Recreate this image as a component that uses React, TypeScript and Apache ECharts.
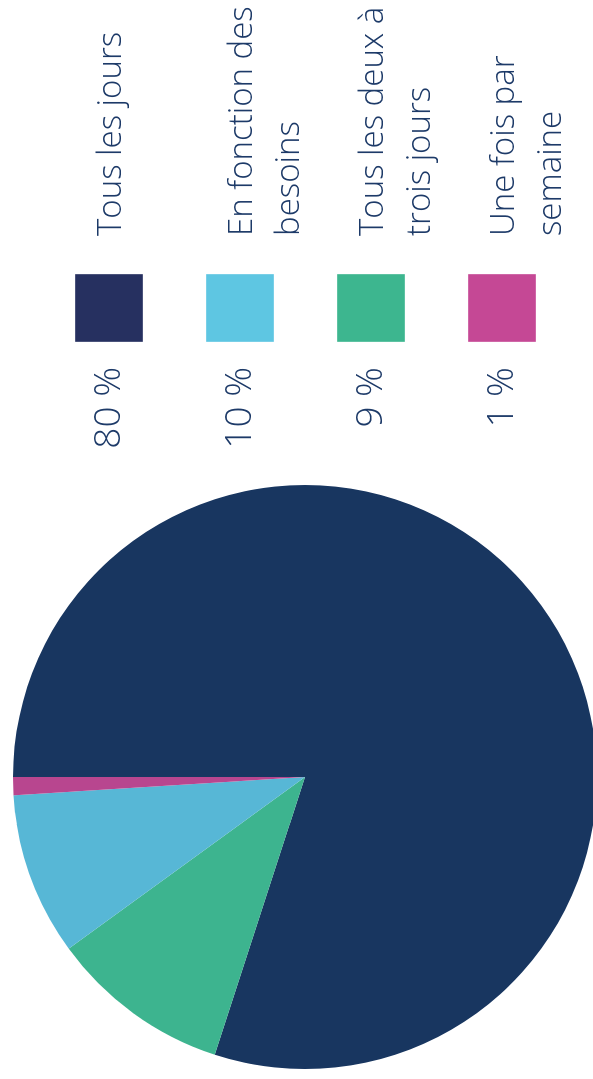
import React, { useEffect, useRef } from "react";
import * as echarts from "echarts";

const categories = [
  "Tous les jours",
  "En fonction des besoins",
  "Tous les deux à trois jours",
  "Une fois par semaine",
];
const legendLines = [
  ["Tous les jours"],
  ["En fonction des", "besoins"],
  ["Tous les deux à", "trois jours"],
  ["Une fois par", "semaine"],
];
const percentLabels = ["80 %", "10 %", "9 %", "1 %"];
// slice sizes as drawn in the pie
const sliceValues = [80, 9, 10, 1];
// clockwise order of the slices, starting at 12 o'clock (of the unrotated chart)
const pieOrder = [0, 2, 1, 3];
const pieColors = ["#183660", "#57b7d6", "#3db48f", "#b8468f"];
const legendColors = ["#263060", "#5ec6e2", "#3db68f", "#c54895"];

const TEXT_COLOR = "#1d3a68";
const FONT = "'Open Sans', sans-serif";

export default function App() {
  const ref = useRef<HTMLDivElement>(null);

  useEffect(() => {
    if (!ref.current) return;
    const chart = echarts.init(ref.current, undefined, { renderer: "svg" });

    const graphics: any[] = [];
    categories.forEach((_, i) => {
      const top = 75 + i * 131;
      graphics.push({
        type: "rect",
        shape: { x: 737, y: top, width: 68, height: 68 },
        style: { fill: legendColors[i], stroke: "rgba(255,255,255,0.35)", lineWidth: 1 },
        silent: true,
      });
      graphics.push({
        type: "text",
        x: 712,
        y: top + 30,
        style: {
          text: percentLabels[i],
          fill: TEXT_COLOR,
          font: `300 37px ${FONT}`,
          align: "right",
          verticalAlign: "middle",
        },
        silent: true,
      });
      legendLines[i].forEach((line, j) => {
        graphics.push({
          type: "text",
          x: 843,
          y: top + 33 + j * 47,
          style: {
            text: line,
            fill: TEXT_COLOR,
            font: `300 33px ${FONT}`,
            align: "left",
            verticalAlign: "middle",
          },
          silent: true,
        });
      });
    });

    chart.setOption({
      animation: false,
      backgroundColor: "#ffffff",
      series: [
        {
          type: "pie",
          center: [302, 305],
          radius: 292,
          startAngle: 90,
          clockwise: true,
          silent: true,
          label: { show: false },
          labelLine: { show: false },
          itemStyle: { borderWidth: 0 },
          data: pieOrder.map((i) => ({
            name: categories[i],
            value: sliceValues[i],
            itemStyle: { color: pieColors[i] },
          })),
        },
      ],
      graphic: graphics,
    });

    return () => chart.dispose();
  }, []);

  return (
    <div
      ref={ref}
      style={{
        position: "fixed",
        left: 0,
        top: 0,
        width: 1079,
        height: 593,
        transformOrigin: "0 0",
        transform: "translateY(1079px) rotate(-90deg)",
      }}
    />
  );
}
